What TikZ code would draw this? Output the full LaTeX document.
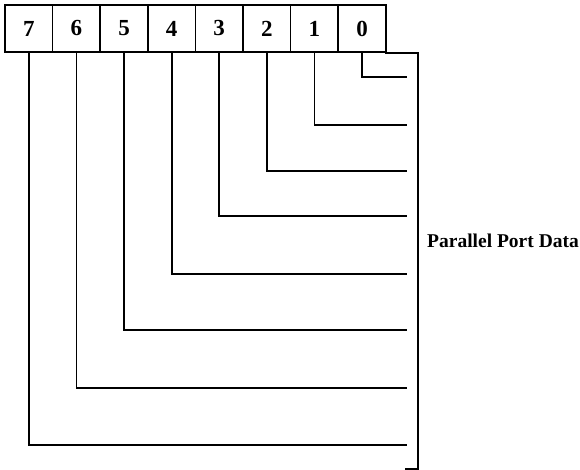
\documentclass[tikz,border=0pt]{standalone}
\usepackage{fontspec}
\setmainfont{Liberation Serif}
\usetikzlibrary{positioning}
\tikzset{
    bitbox/.style={draw, line width=1.6pt, minimum width=47.6pt, minimum height=47pt,
                   inner sep=0pt, outer sep=0pt, font=\fontsize{23}{23}\selectfont\bfseries},
    wire/.style={line width=1.8pt},
    lbl/.style={font=\fontsize{19.5}{20}\selectfont\bfseries, anchor=west, inner sep=0pt},
}

\begin{document}
\begin{tikzpicture}[x=1pt, y=-1pt]
    \useasboundingbox (0,0) rectangle (580,470);
    % register bits, MSB on the left
    \node[bitbox] (b7) at (28.8,28.5) {7};
    \foreach \i [remember=\i as \prev (initially 7)] in {6,...,0}
        \node[bitbox, right=0pt of b\prev] (b\i) {\i};
    % output lines to the port
    \foreach \i/\y in {0/77, 1/125, 2/171, 3/216, 4/274, 5/330, 6/388, 7/445} {
        \coordinate (e\i) at (407,\y);
        \draw[wire] (b\i.south) |- (e\i);
    }
    % bracket
    \coordinate (brtop) at (385,53);
    \coordinate (brbot) at (405,469);
    \draw[wire] (brtop) -| (418,469) -- (brbot);
    \node[lbl] (port) at (427,241) {Parallel Port Data};
\end{tikzpicture}
\end{document}
